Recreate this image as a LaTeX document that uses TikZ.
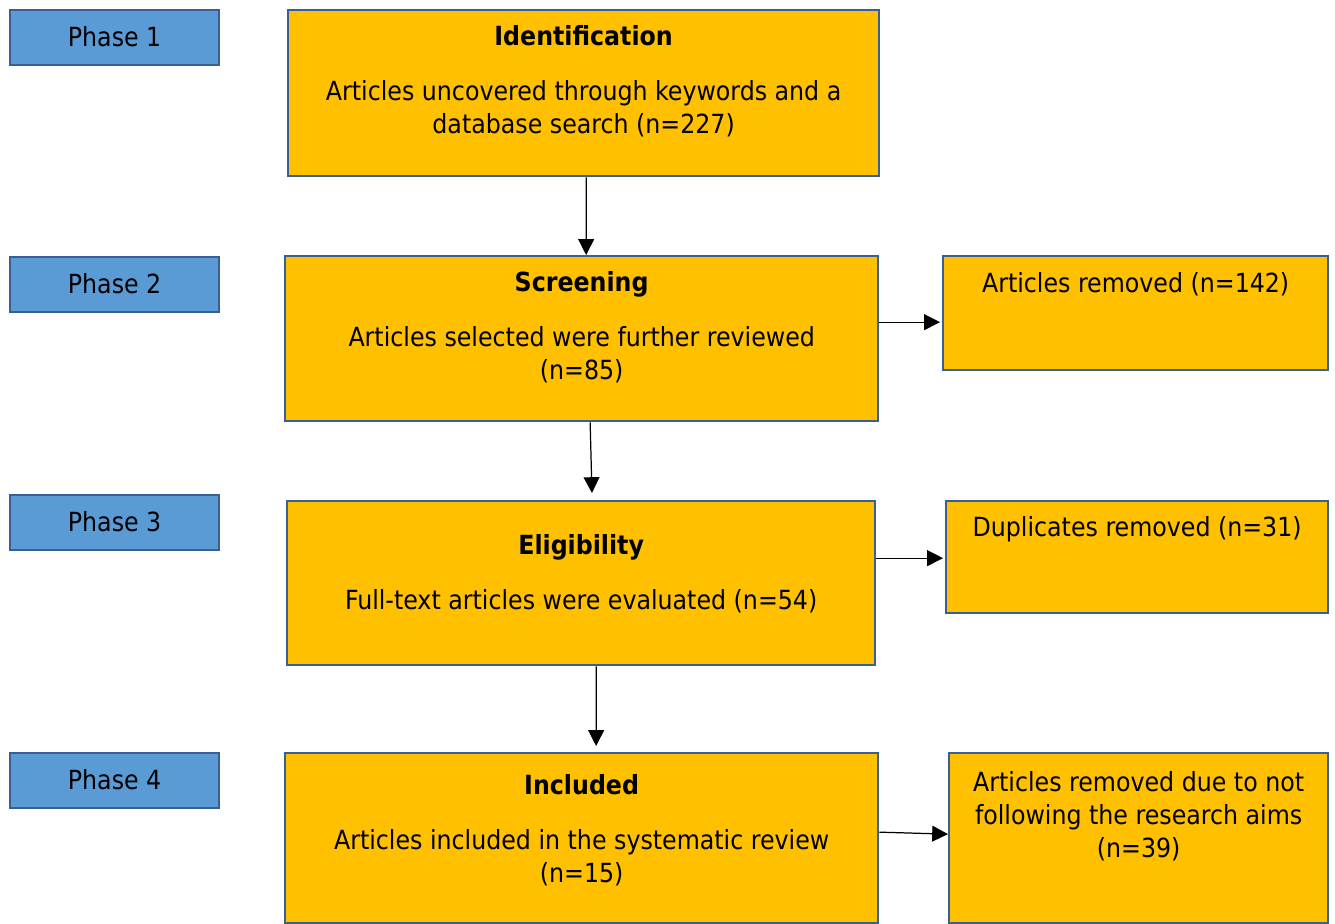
\documentclass[tikz,border=0pt]{standalone}
\usepackage{fontspec}
\setmainfont{DejaVu Sans Condensed}
\usepackage{xcolor}
\usetikzlibrary{arrows.meta,positioning,calc}
\definecolor{boxorange}{HTML}{FFC000}
\definecolor{phaseblue}{HTML}{5B9BD5}
\definecolor{edgeblue}{HTML}{3A5F94}

\begin{document}
\begin{tikzpicture}[font=\fontsize{15}{18.7}\selectfont,>={Triangle[length=9pt,width=9pt]},
  phasebox/.style={draw=edgeblue,line width=1.3pt,fill=phaseblue,minimum width=4.18cm,minimum height=1.1cm,anchor=north west,inner sep=0pt},
  stagebox/.style={draw=edgeblue,line width=1.3pt,fill=boxorange,anchor=north west,inner sep=0pt},
  boxtext/.style={align=center,inner sep=0pt},
  arr/.style={->,line width=0.7pt}]
\useasboundingbox (0,0) rectangle (26.7,-18.46);

% phases
\node[phasebox] (ph1) at (0.18,-0.18) {\raisebox{1pt}{Phase 1}};
\node[phasebox] (ph2) at (0.18,-5.12) {\raisebox{1pt}{Phase 2}};
\node[phasebox] (ph3) at (0.18,-9.88) {\raisebox{1pt}{Phase 3}};
\node[phasebox] (ph4) at (0.18,-15.04) {\raisebox{1pt}{Phase 4}};

% main column
\node[stagebox,minimum width=11.82cm,minimum height=3.32cm] (ident) at (5.74,-0.18) {};
\node[boxtext,below=0.32cm of ident.north] (identtxt) {\textbf{Identification}\\[0.44cm]Articles uncovered through keywords and a\\database search (n=227)};
\node[stagebox,minimum width=11.86cm,minimum height=3.3cm] (scr) at (5.68,-5.10) {};
\node[boxtext,below=0.33cm of scr.north] (scrtxt) {\textbf{Screening}\\[0.44cm]Articles selected were further reviewed\\(n=85)};
\node[stagebox,minimum width=11.76cm,minimum height=3.28cm] (elig) at (5.72,-10.0) {};
\node[boxtext,below=0.68cm of elig.north] (eligtxt) {\textbf{Eligibility}\\[0.44cm]Full-text articles were evaluated (n=54)};
\node[stagebox,minimum width=11.86cm,minimum height=3.4cm] (incl) at (5.68,-15.04) {};
\node[boxtext,below=0.44cm of incl.north] (incltxt) {\textbf{Included}\\[0.44cm]Articles included in the systematic review\\(n=15)};

% removed
\node[stagebox,minimum width=7.7cm,minimum height=2.28cm] (rem1) at (18.84,-5.10) {};
\node[boxtext,below=0.34cm of rem1.north] (rem1txt) {Articles removed (n=142)};
\node[stagebox,minimum width=7.64cm,minimum height=2.24cm] (dup) at (18.9,-10.0) {};
\node[boxtext,below=0.32cm of dup.north] (duptxt) {Duplicates removed (n=31)};
\node[stagebox,minimum width=7.58cm,minimum height=3.4cm] (rem2) at (18.96,-15.04) {};
\node[boxtext,below=0.38cm of rem2.north] (rem2txt) {Articles removed due to not\\following the research aims\\(n=39)};

% arrows
\draw[arr] ([xshift=0.05cm]ident.south) -- ([xshift=0.09cm]scr.north);
\draw[arr,shorten >=0.14cm] ([xshift=0.17cm]scr.south) -- ([xshift=0.22cm]elig.north);
\draw[arr,shorten >=0.12cm] ([xshift=0.3cm]elig.south) -- ([xshift=0.29cm]incl.north);
\coordinate (a1) at ([yshift=0.33cm]scr.east);
\coordinate (a2) at ([yshift=0.5cm]elig.east);
\draw[arr,shorten >=0.04cm] (a1) -- (a1 -| rem1.west);
\draw[arr,shorten >=0.04cm] (a2) -- (a2 -| dup.west);
\draw[arr] ([yshift=0.12cm]incl.east) -- ([yshift=0.08cm]rem2.west);
\end{tikzpicture}
\end{document}
